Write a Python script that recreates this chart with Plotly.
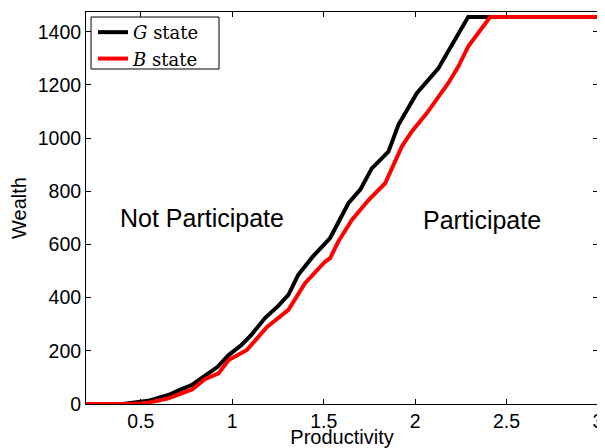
import plotly.graph_objects as go

# Data
g_x = [0.2, 0.4, 0.54, 0.65, 0.71, 0.78, 0.83, 0.92, 0.98, 1.05, 1.107, 1.18, 1.25, 1.307,
       1.36, 1.44, 1.535, 1.58, 1.635, 1.70, 1.763, 1.854, 1.908, 2.008, 2.127, 2.181,
       2.236, 2.29, 3.0]
g_w = [0, 0, 12, 34, 52, 72, 96, 140, 184, 222, 262, 324, 368, 410,
       485, 554, 624, 685, 755, 806, 886, 949, 1049, 1168, 1262, 1326,
       1394, 1455, 1455]

b_x = [0.2, 0.45, 0.54, 0.65, 0.78, 0.85, 0.925, 0.98, 1.08, 1.19, 1.307, 1.398, 1.507,
       1.535, 1.58, 1.654, 1.745, 1.836, 1.927, 1.981, 2.063, 2.181, 2.236, 2.29, 2.41, 3.0]
b_w = [0, 0, 5, 21, 55, 93, 115, 165, 203, 290, 354, 454, 535,
       548, 611, 692, 767, 830, 968, 1024, 1093, 1206, 1269, 1344, 1455, 1455]

x_ticks = [0.5, 1, 1.5, 2, 2.5, 3]
x_labels = ["0.5", "1", "1.5", "2", "2.5", "3"]
y_ticks = [0, 200, 400, 600, 800, 1000, 1200, 1400]

series_names = ["<i>G</i> state", "<i>B</i> state"]
series_colors = ["#000000", "#ff0000"]

regions = [("Not Participate", 0.836, 700), ("Participate", 2.368, 692)]

SANS = "Liberation Sans, Arial"

fig = go.Figure()
fig.add_trace(go.Scatter(x=g_x, y=g_w, mode="lines", name=series_names[0],
                         line=dict(color=series_colors[0], width=4)))
fig.add_trace(go.Scatter(x=b_x, y=b_w, mode="lines", name=series_names[1],
                         line=dict(color=series_colors[1], width=4)))

for txt, xx, yy in regions:
    fig.add_annotation(x=xx, y=yy, text=txt, showarrow=False,
                       font=dict(family=SANS, size=25, color="black"))

# legend frame (MATLAB-style box, wider than the entries)
fig.add_shape(type="rect", xref="paper", yref="paper",
              x0=0.0098, x1=0.2598, y0=0.8546, y1=0.9872,
              line=dict(color="black", width=1), fillcolor="white", layer="above")

axis_common = dict(showline=True, linecolor="black", linewidth=1, mirror="ticks",
                   ticks="inside", ticklen=5, tickcolor="black", showgrid=False,
                   zeroline=False, automargin=False, ticklabeloverflow="allow",
                   tickfont=dict(family=SANS, size=19.5, color="black"))

# page body adds an 8px offset; figure size/margins compensate for it
fig.update_layout(
    width=597, height=440,
    margin=dict(l=78, r=7, t=4, b=44),
    plot_bgcolor="white", paper_bgcolor="white",
    showlegend=True,
    legend=dict(x=0.0137, y=0.995, xanchor="left", yanchor="top",
                bgcolor="rgba(0,0,0,0)", borderwidth=0,
                font=dict(family="DejaVu Serif, Liberation Serif", size=18, color="black"),
                tracegroupgap=0, itemwidth=30),
    xaxis=dict(range=[0.2, 3], tickvals=x_ticks, ticktext=x_labels,
               title=dict(text="Productivity", standoff=3,
                          font=dict(family=SANS, size=20, color="black")),
               **axis_common),
    yaxis=dict(range=[0, 1474], tickvals=y_ticks,
               title=dict(text="Wealth", standoff=10,
                          font=dict(family=SANS, size=20, color="black")),
               **axis_common),
)

fig.write_html("out.html")
